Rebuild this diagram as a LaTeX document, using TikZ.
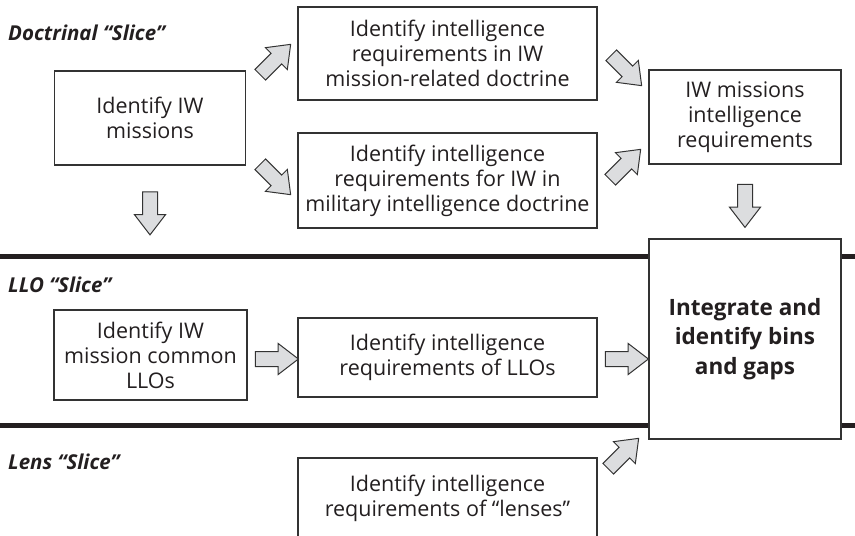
\documentclass[tikz,border=0pt]{standalone}
\usepackage{fontspec}
\setmainfont{Open Sans}
\usetikzlibrary{shapes.arrows}

\newlength{\du}
\setlength{\du}{10pt}

\definecolor{boxline}{rgb}{0.200000, 0.200000, 0.200000}
\definecolor{arrowfill}{rgb}{0.862745, 0.866667, 0.874510}
\definecolor{textcolor}{rgb}{0.137255, 0.121569, 0.125490}

\tikzset{
  stepbox/.style={draw=boxline, fill=white, line width=0.15\du, inner sep=0pt,
    align=center, text=textcolor, font=\fontsize{21.5}{25}\selectfont},
  blockarrow/.style={single arrow, draw=boxline, fill=arrowfill, line width=0.1\du,
    inner sep=0pt, text height=1.4\du, text depth=0pt, minimum height=4.3\du,
    single arrow head extend=0.8\du, single arrow head indent=0pt,
    single arrow tip angle=75},
  slicelabel/.style={anchor=west, inner sep=0pt, text=textcolor,
    font=\fontsize{20.5}{24}\selectfont\bfseries\itshape},
  sliceline/.style={line width=0.5\du, draw=textcolor}
}

\begin{document}
\begin{tikzpicture}
\pgftransformxscale{1.000000}
\pgftransformyscale{-1.000000}
\useasboundingbox (0.000000\du,0.000000\du) rectangle (85.500000\du,53.600000\du);
% slice separators
\draw[sliceline] (0.000000\du,25.600000\du)--(85.500000\du,25.600000\du);
\draw[sliceline] (0.000000\du,42.500000\du)--(85.500000\du,42.500000\du);
% setfont left to latex
\node[slicelabel] (doctrinal) at (0.800000\du,3.300000\du){Doctrinal “Slice”};
\node[slicelabel] (llo) at (0.800000\du,28.500000\du){LLO “Slice”};
\node[slicelabel] (lens) at (0.800000\du,46.200000\du){Lens “Slice”};
% doctrinal slice
\node[stepbox, minimum width=19.100000\du, minimum height=9.400000\du] (missions) at (15.000000\du,11.800000\du){Identify IW\\missions};
\node[stepbox, minimum width=29.900000\du, minimum height=9.300000\du] (mwdoctrine) at (44.750000\du,5.350000\du){Identify intelligence\\requirements in IW\\mission-related doctrine};
\node[stepbox, minimum width=29.900000\du, minimum height=9.500000\du] (midoctrine) at (44.750000\du,18.050000\du){Identify intelligence\\requirements for IW in\\military intelligence doctrine};
\node[stepbox, minimum width=19.200000\du, minimum height=9.400000\du] (missionreqs) at (74.500000\du,11.700000\du){IW missions\\intelligence\\requirements};
% LLO slice
\node[stepbox, minimum width=19.300000\du, minimum height=9.000000\du] (commonllo) at (15.050000\du,35.500000\du){Identify IW\\mission common\\LLOs};
\node[stepbox, minimum width=29.900000\du, minimum height=7.900000\du] (lloreqs) at (44.750000\du,35.750000\du){Identify intelligence\\requirements of LLOs};
% lens slice
\node[stepbox, minimum width=29.900000\du, minimum height=8.000000\du] (lensreqs) at (44.750000\du,49.800000\du){Identify intelligence\\requirements of “lenses”};
% setfont left to latex
\node[stepbox, minimum width=19.200000\du, minimum height=20.000000\du, font=\fontsize{22.5}{29.5}\selectfont\bfseries] (integrate) at (74.500000\du,33.900000\du){Integrate and\\identify bins\\and gaps};
% block arrows
\node[blockarrow, rotate=45] (arrA) at (27.200000\du,6.300000\du){};
\node[blockarrow, rotate=-45] (arrB) at (27.200000\du,17.600000\du){};
\node[blockarrow, rotate=-45] (arrC) at (62.300000\du,6.700000\du){};
\node[blockarrow, rotate=45] (arrD) at (62.200000\du,16.800000\du){};
\node[blockarrow, rotate=-90] (arrE) at (15.000000\du,20.850000\du){};
\node[blockarrow, rotate=-90] (arrF) at (74.500000\du,20.100000\du){};
\node[blockarrow] (arrG) at (27.200000\du,35.900000\du){};
\node[blockarrow] (arrH) at (62.200000\du,35.900000\du){};
\node[blockarrow, rotate=45] (arrI) at (62.000000\du,45.700000\du){};
\end{tikzpicture}
\end{document}
